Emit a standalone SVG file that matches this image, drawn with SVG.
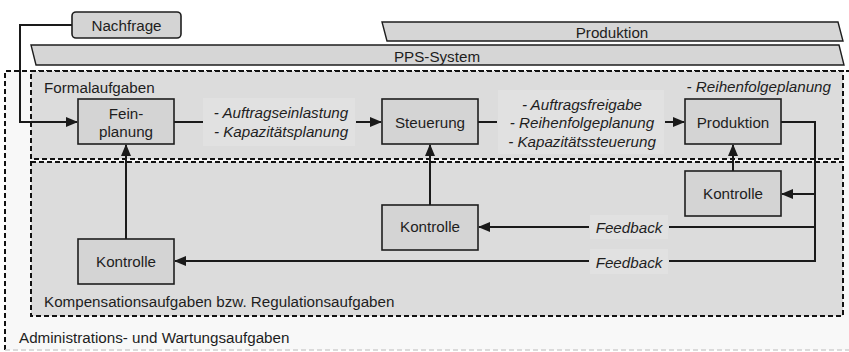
<svg xmlns="http://www.w3.org/2000/svg" width="849" height="352" viewBox="0 0 849 352">
  <style>
    text { font-family: "Liberation Sans", Arial, sans-serif; font-size: 15.2px; fill: #1e1e1e; }
    .it { font-style: italic; }
    .mid { text-anchor: middle; }
    .node { fill: #d4d4d4; stroke: #1e1e1e; stroke-width: 1.6; }
    .banner { fill: #d6d6d6; stroke: #1e1e1e; stroke-width: 1.4; }
    .zone { fill: #dcdcdc; stroke: #111; stroke-width: 2; stroke-dasharray: 5 3; }
    .lblbg { fill: #e1e1e1; }
    .wire { fill: none; stroke: #1a1a1a; stroke-width: 2; }
  </style>
  <defs>
    <marker id="arrow" markerUnits="userSpaceOnUse" markerWidth="12" markerHeight="10" refX="11" refY="5" orient="auto">
      <path d="M0,0 L12,5 L0,10 z" fill="#1a1a1a"/>
    </marker>
  </defs>

  <rect width="849" height="352" fill="#ffffff"/>

  <!-- outer area: Administrations- und Wartungsaufgaben -->
  <g id="zone-admin">
    <rect x="5" y="71" width="850" height="279" fill="#f8f8f8"/>
    <path d="M5,350 L5,71 L849,71" fill="none" stroke="#111" stroke-width="2" stroke-dasharray="5 3"/>
    <line x1="5" y1="350" x2="849" y2="350" stroke="#cfcfcf" stroke-width="1.5" stroke-dasharray="5 3"/>
    <text x="19" y="343">Administrations- und Wartungsaufgaben</text>
  </g>

  <!-- Formalaufgaben -->
  <g id="zone-formal">
    <rect class="zone" x="31" y="71" width="812" height="88"/>
    <text x="44" y="93">Formalaufgaben</text>
  </g>

  <!-- Kompensationsaufgaben -->
  <g id="zone-komp">
    <rect class="zone" x="31" y="162" width="812" height="154"/>
    <text x="44" y="307">Kompensationsaufgaben bzw. Regulationsaufgaben</text>
  </g>

  <!-- banners -->
  <g id="banner-pps">
    <polygon class="banner" points="31,45 839,45 844,65 36,65"/>
    <text class="mid" x="437" y="62">PPS-System</text>
  </g>
  <g id="banner-produktion">
    <polygon class="banner" points="382,22 838,22 843,41 387,41"/>
    <text class="mid" x="612" y="38">Produktion</text>
  </g>
  <g id="nachfrage">
    <rect class="node" x="72" y="12" width="109" height="26" rx="4"/>
    <text class="mid" x="126.5" y="31">Nachfrage</text>
  </g>

  <!-- label backgrounds -->
  <g id="label-backgrounds">
    <rect class="lblbg" x="203" y="98" width="152" height="48"/>
    <rect class="lblbg" x="498" y="90" width="166" height="64"/>
    <rect class="lblbg" x="590" y="215" width="78" height="24"/>
    <rect class="lblbg" x="590" y="249" width="78" height="25"/>
  </g>

  <!-- connectors -->
  <g id="connectors">
    <polyline class="wire" points="72,25 20,25 20,122 77,122" marker-end="url(#arrow)"/>
    <line class="wire" x1="174" y1="122" x2="203" y2="122"/>
    <line class="wire" x1="356" y1="122" x2="381" y2="122" marker-end="url(#arrow)"/>
    <line class="wire" x1="478" y1="122" x2="497" y2="122"/>
    <line class="wire" x1="665" y1="122" x2="684" y2="122" marker-end="url(#arrow)"/>
    <polyline class="wire" points="781,122 815,122 815,261 669,261"/>
    <line class="wire" x1="589" y1="261" x2="175" y2="261" marker-end="url(#arrow)"/>
    <line class="wire" x1="815" y1="227" x2="669" y2="227"/>
    <line class="wire" x1="589" y1="227" x2="479" y2="227" marker-end="url(#arrow)"/>
    <line class="wire" x1="815" y1="194" x2="782" y2="194" marker-end="url(#arrow)"/>
    <line class="wire" x1="733" y1="171" x2="733" y2="145" marker-end="url(#arrow)"/>
    <line class="wire" x1="430" y1="205" x2="430" y2="145" marker-end="url(#arrow)"/>
    <line class="wire" x1="126" y1="239" x2="126" y2="145" marker-end="url(#arrow)"/>
  </g>

  <!-- connector labels -->
  <g id="connector-labels">
    <text class="it mid" x="281" y="118">- Auftragseinlastung</text>
    <text class="it mid" x="281" y="137">- Kapazitätsplanung</text>
    <text class="it mid" x="582" y="110">- Auftragsfreigabe</text>
    <text class="it mid" x="582" y="128">- Reihenfolgeplanung</text>
    <text class="it mid" x="582" y="147">- Kapazitätssteuerung</text>
    <text class="it" x="831" y="92" text-anchor="end">- Reihenfolgeplanung</text>
    <text class="it mid" x="629" y="233">Feedback</text>
    <text class="it mid" x="629" y="268">Feedback</text>
  </g>

  <!-- nodes -->
  <g id="feinplanung">
    <rect class="node" x="78" y="99" width="96" height="45"/>
    <text class="mid" x="126" y="119">Fein-</text>
    <text class="mid" x="126" y="137">planung</text>
  </g>
  <g id="steuerung">
    <rect class="node" x="382" y="99" width="96" height="45"/>
    <text class="mid" x="430" y="128">Steuerung</text>
  </g>
  <g id="produktion">
    <rect class="node" x="685" y="99" width="96" height="45"/>
    <text class="mid" x="733" y="128">Produktion</text>
  </g>
  <g id="kontrolle-produktion">
    <rect class="node" x="685" y="171" width="96" height="45"/>
    <text class="mid" x="733" y="199">Kontrolle</text>
  </g>
  <g id="kontrolle-steuerung">
    <rect class="node" x="382" y="205" width="96" height="45"/>
    <text class="mid" x="430" y="232">Kontrolle</text>
  </g>
  <g id="kontrolle-feinplanung">
    <rect class="node" x="78" y="239" width="96" height="45"/>
    <text class="mid" x="126" y="267">Kontrolle</text>
  </g>
</svg>
